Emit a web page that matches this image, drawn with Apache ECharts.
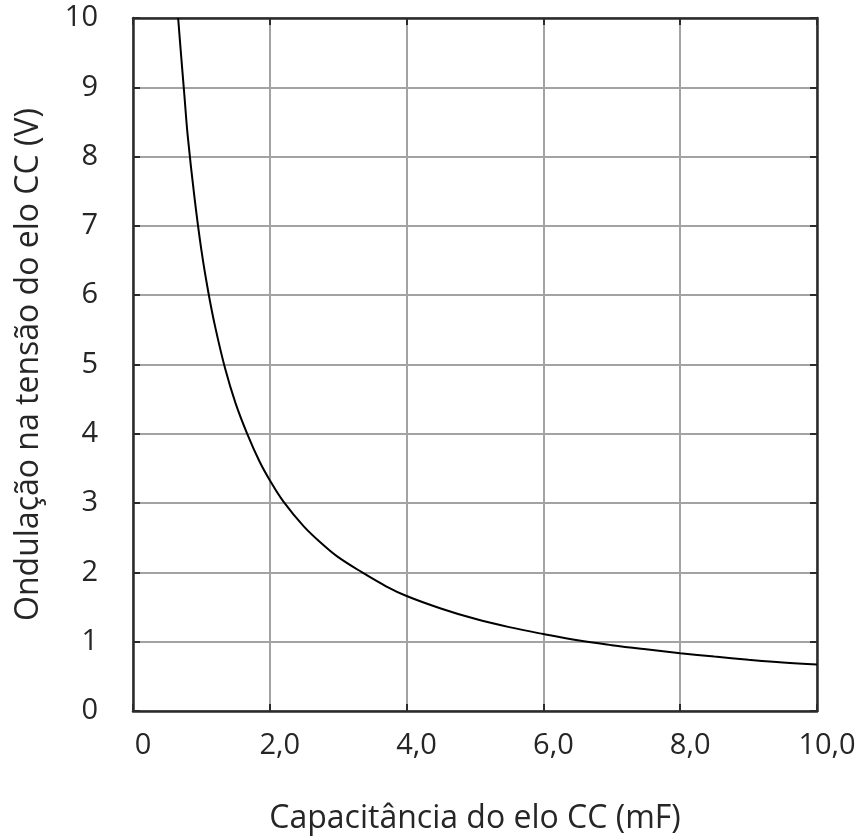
<!DOCTYPE html>
<html>
<head>
<meta charset="utf-8">
<script src="https://cdn.jsdelivr.net/npm/echarts@6/dist/echarts.min.js"></script>
<style>
  html, body { margin: 0; padding: 0; background: #fff; }
  #chart { width: 864px; height: 840px; }
</style>
</head>
<body>
<div id="chart"></div>
<script>
// Capacitância do elo CC (mF)
const capacitance = [0.66, 0.70, 0.75, 0.80, 0.90, 1.0, 1.1, 1.2, 1.35, 1.5, 1.67, 1.85, 2.0, 2.2, 2.5, 2.8, 3.0, 3.35, 3.7, 4.0, 4.5, 5.0, 5.5, 6.0, 6.5, 7.0, 7.5, 8.0, 8.5, 9.0, 9.5, 10.0];
// Ondulação na tensão do elo CC (V)
const ripple = [10.0, 9.5, 8.9, 8.3, 7.4, 6.65, 6.05, 5.55, 4.93, 4.44, 4.0, 3.6, 3.33, 3.02, 2.66, 2.38, 2.22, 2.0, 1.8, 1.66, 1.48, 1.33, 1.21, 1.11, 1.02, 0.95, 0.89, 0.835, 0.785, 0.74, 0.70, 0.67];

const xTitle = 'Capacitância do elo CC (mF)';
const yTitle = 'Ondulação na tensão do elo CC (V)';

const FONT = '"Open Sans", "Noto Sans", sans-serif';
const TEXT = '#262626';
const AXIS = '#2b2b2b';
const GRIDC = '#a3a3a3';

const points = capacitance.map((c, i) => [c, ripple[i]]);

const frameAxis = (extra) => Object.assign({
  type: 'value', min: 0, max: 10, interval: 2,
  axisLine: { show: true, onZero: false, lineStyle: { color: AXIS, width: 2.5 } },
  axisTick: { show: true, inside: true, length: 7, lineStyle: { color: AXIS, width: 2 } },
  axisLabel: { show: false },
  splitLine: { show: false }
}, extra);

const chart = echarts.init(document.getElementById('chart'), null, { renderer: 'canvas' });
chart.setOption({
  animation: false,
  backgroundColor: '#ffffff',
  grid: { left: 133, right: 47, top: 18, bottom: 129, containLabel: false },
  xAxis: [
    frameAxis({
      position: 'bottom',
      name: xTitle, nameLocation: 'middle', nameGap: 92,
      nameTextStyle: { fontFamily: FONT, fontSize: 32, color: TEXT },
      axisLabel: {
        show: true, margin: 20, fontFamily: FONT, fontSize: 29, color: TEXT,
        padding: [0, 0, 0, 20],
        formatter: v => v === 0 ? '0' : v.toFixed(1).replace('.', ',')
      },
      splitLine: { show: true, lineStyle: { color: GRIDC, width: 2 } }
    }),
    frameAxis({ position: 'top' })
  ],
  yAxis: [
    frameAxis({
      position: 'left', interval: 1,
      name: yTitle, nameLocation: 'middle', nameGap: 88, nameRotate: 90,
      nameTextStyle: { fontFamily: FONT, fontSize: 32, color: TEXT },
      axisLabel: {
        show: true, margin: 35, fontFamily: FONT, fontSize: 29, color: TEXT,
        padding: [10, 0, 0, 0]
      },
      splitLine: { show: true, lineStyle: { color: GRIDC, width: 2 } }
    }),
    frameAxis({ position: 'right', interval: 1 })
  ],
  series: [{
    type: 'line',
    data: points,
    smooth: 0.4,
    showSymbol: false,
    clip: true,
    lineStyle: { color: '#000', width: 2 }
  }]
});
</script>
</body>
</html>
